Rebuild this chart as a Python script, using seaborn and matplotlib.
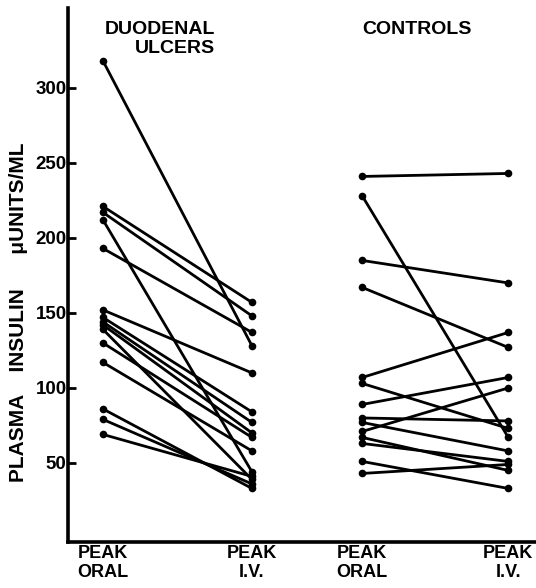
import numpy as np
import pandas as pd
import matplotlib
matplotlib.use("Agg")
import matplotlib.pyplot as plt
import seaborn as sns

# --- values (plasma insulin, uU/ml) ---
ulcer_oral = [318, 221, 217, 212, 193, 152, 147, 144, 142, 139, 130, 117, 86, 79, 69]
ulcer_iv = [128, 157, 148, 44, 137, 110, 84, 77, 70, 39, 67, 58, 33, 36, 41]
control_oral = [241, 228, 185, 167, 107, 103, 89, 80, 77, 71, 67, 63, 51, 43]
control_iv = [243, 67, 170, 127, 137, 73, 107, 78, 58, 100, 45, 51, 33, 49]

stages = ["PEAK\nORAL", "PEAK\nI.V.", "PEAK\nORAL", "PEAK\nI.V."]
y_ticks = [50, 100, 150, 200, 250, 300]

# horizontal slot of each column (oral/iv for each group)
SLOT = [0.0, 1.0, 1.74, 2.72]


def long_table():
    rows = []
    for i, (a, b) in enumerate(zip(ulcer_oral, ulcer_iv)):
        rows.append(("u%d" % i, SLOT[0], a))
        rows.append(("u%d" % i, SLOT[1], b))
    for i, (a, b) in enumerate(zip(control_oral, control_iv)):
        rows.append(("c%d" % i, SLOT[2], a))
        rows.append(("c%d" % i, SLOT[3], b))
    return pd.DataFrame(rows, columns=["subject", "x", "insulin"])


def main():
    sns.set_style("white")
    plt.rcParams["font.family"] = ["Liberation Sans", "DejaVu Sans"]
    plt.rcParams["font.weight"] = "bold"
    for key in ("text.color", "axes.labelcolor", "xtick.color", "ytick.color"):
        plt.rcParams[key] = "black"

    df = long_table()

    fig = plt.figure(figsize=(5.36, 5.88), dpi=100)
    ax = fig.add_axes([68 / 536, 46 / 588, 468 / 536, 534 / 588])

    sns.lineplot(data=df, x="x", y="insulin", units="subject", estimator=None,
                 sort=False, color="black", linewidth=2.0, marker="o",
                 markersize=5.5, markeredgewidth=0, ax=ax)

    ax.set_xlim(-0.235, 2.906)
    ax.set_ylim(-2.7, 353.3)

    for side in ("top", "right"):
        ax.spines[side].set_visible(False)
    for side in ("left", "bottom"):
        ax.spines[side].set_linewidth(2.6)
        ax.spines[side].set_color("black")

    ax.set_yticks(y_ticks)
    ax.set_yticklabels([str(v) for v in y_ticks], fontsize=13.5, fontweight="bold")
    ax.tick_params(axis="y", direction="in", length=6, width=2, pad=1, left=True)

    ax.set_xticks(SLOT)
    ax.set_xticklabels(stages, fontsize=13, fontweight="bold", linespacing=1.2)
    ax.tick_params(axis="x", length=0, pad=2)

    ax.set_xlabel("")
    ax.set_ylabel("PLASMA    INSULIN      \u03bcUNITS/ML", fontsize=15, fontweight="bold")
    ax.yaxis.set_label_coords(-0.085, 0.43)

    ax.text(0.314, 0.975, "DUODENAL\nULCERS", transform=ax.transAxes, ha="right",
            va="top", multialignment="right", fontsize=14, fontweight="bold",
            linespacing=1.1)
    ax.text(0.628, 0.975, "CONTROLS", transform=ax.transAxes, ha="left", va="top",
            fontsize=14, fontweight="bold")

    fig.savefig("out.png", dpi=100)


if __name__ == "__main__":
    main()
